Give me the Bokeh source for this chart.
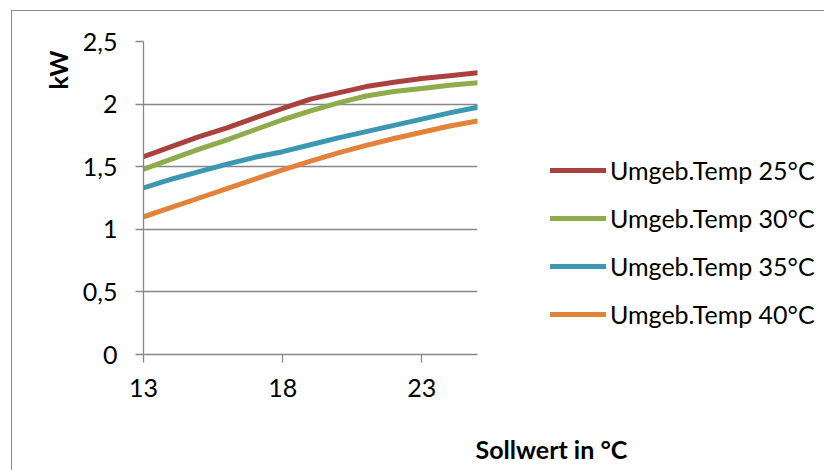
from bokeh.plotting import figure
from bokeh.models import (Range1d, FixedTicker, Legend, LegendItem, Title)
from bokeh.embed import file_html
from bokeh.resources import INLINE

# ---- data ----
sollwert = [13, 14, 15, 16, 17, 18, 19, 20, 21, 22, 23, 24, 25]
temp25 = [1.58, 1.66, 1.74, 1.81, 1.89, 1.965, 2.04, 2.09, 2.14, 2.175, 2.205, 2.227, 2.25]
temp30 = [1.48, 1.56, 1.64, 1.715, 1.795, 1.875, 1.945, 2.01, 2.065, 2.10, 2.125, 2.15, 2.17]
temp35 = [1.33, 1.40, 1.46, 1.52, 1.575, 1.62, 1.675, 1.73, 1.78, 1.83, 1.88, 1.93, 1.975]
temp40 = [1.10, 1.175, 1.25, 1.325, 1.40, 1.475, 1.545, 1.61, 1.67, 1.725, 1.775, 1.825, 1.865]
series_names = ["Umgeb.Temp 25°C", "Umgeb.Temp 30°C", "Umgeb.Temp 35°C", "Umgeb.Temp 40°C"]
series_colors = ["#A9413E", "#8EAC4B", "#3C97B0", "#E3823B"]
x_ticks = [13, 18, 23]
y_ticks = [0, 0.5, 1, 1.5, 2, 2.5]
y_tick_labels = ["0", "0,5", "1", "1,5", "2", "2,5"]
x_title = "Sollwert in °C"
y_title = "kW"

FONT = "Lato"
FS = "25px"
GRAY = "#878787"

p = figure(width=810, height=456, frame_width=334, frame_height=313,
           output_backend="svg", toolbar_location=None,
           x_range=Range1d(13, 25), y_range=Range1d(0, 2.5),
           min_border_left=131, min_border_top=30, min_border_right=345, min_border_bottom=113)
p.margin = (10, 0, 0, 11)
p.styles = {"border-left": "1px solid #898989", "border-top": "1px solid #898989"}
p.outline_line_color = None
p.background_fill_color = "white"
p.border_fill_color = "white"

# axes
p.xaxis.ticker = FixedTicker(ticks=x_ticks)
p.yaxis.ticker = FixedTicker(ticks=y_ticks)
p.yaxis.major_label_overrides = {t: l for t, l in zip(y_ticks, y_tick_labels)}
for ax in (p.xaxis, p.yaxis):
    ax.axis_line_color = GRAY
    ax.axis_line_width = 1.3
    ax.major_tick_line_color = GRAY
    ax.major_tick_line_width = 1.3
    ax.major_tick_in = 0
    ax.major_tick_out = 8
    ax.minor_tick_line_color = None
    ax.major_label_text_font = FONT
    ax.major_label_text_font_size = FS
    ax.major_label_text_color = "black"
p.xaxis.major_label_standoff = 16
p.yaxis.major_label_standoff = 18
p.xgrid.grid_line_color = None
p.ygrid.grid_line_color = GRAY
p.ygrid.grid_line_width = 1.3

# lines
renderers = []
for ys, c in zip([temp25, temp30, temp35, temp40], series_colors):
    r = p.line(sollwert, ys, line_color=c, line_width=5, line_cap="round", line_join="round")
    renderers.append(r)

legend = Legend(items=[LegendItem(label=n, renderers=[r]) for n, r in zip(series_names, renderers)],
                location=(73, 16), orientation="vertical",
                glyph_width=56, glyph_height=48, label_standoff=4, spacing=0,
                padding=0, margin=0, border_line_color=None, background_fill_alpha=0,
                label_text_font=FONT, label_text_font_size=FS, label_text_color="black")
p.add_layout(legend, "right")

# titles
p.add_layout(Title(text=y_title, align="right", offset=9, standoff=14,
                   text_font=FONT, text_font_size=FS, text_font_style="bold",
                   text_color="black"), "left")
p.add_layout(Title(text=x_title, align="left", offset=332, standoff=64,
                   text_font=FONT, text_font_size=FS, text_font_style="bold",
                   text_color="black"), "below")

open("out.html", "w").write(file_html(p, INLINE))
